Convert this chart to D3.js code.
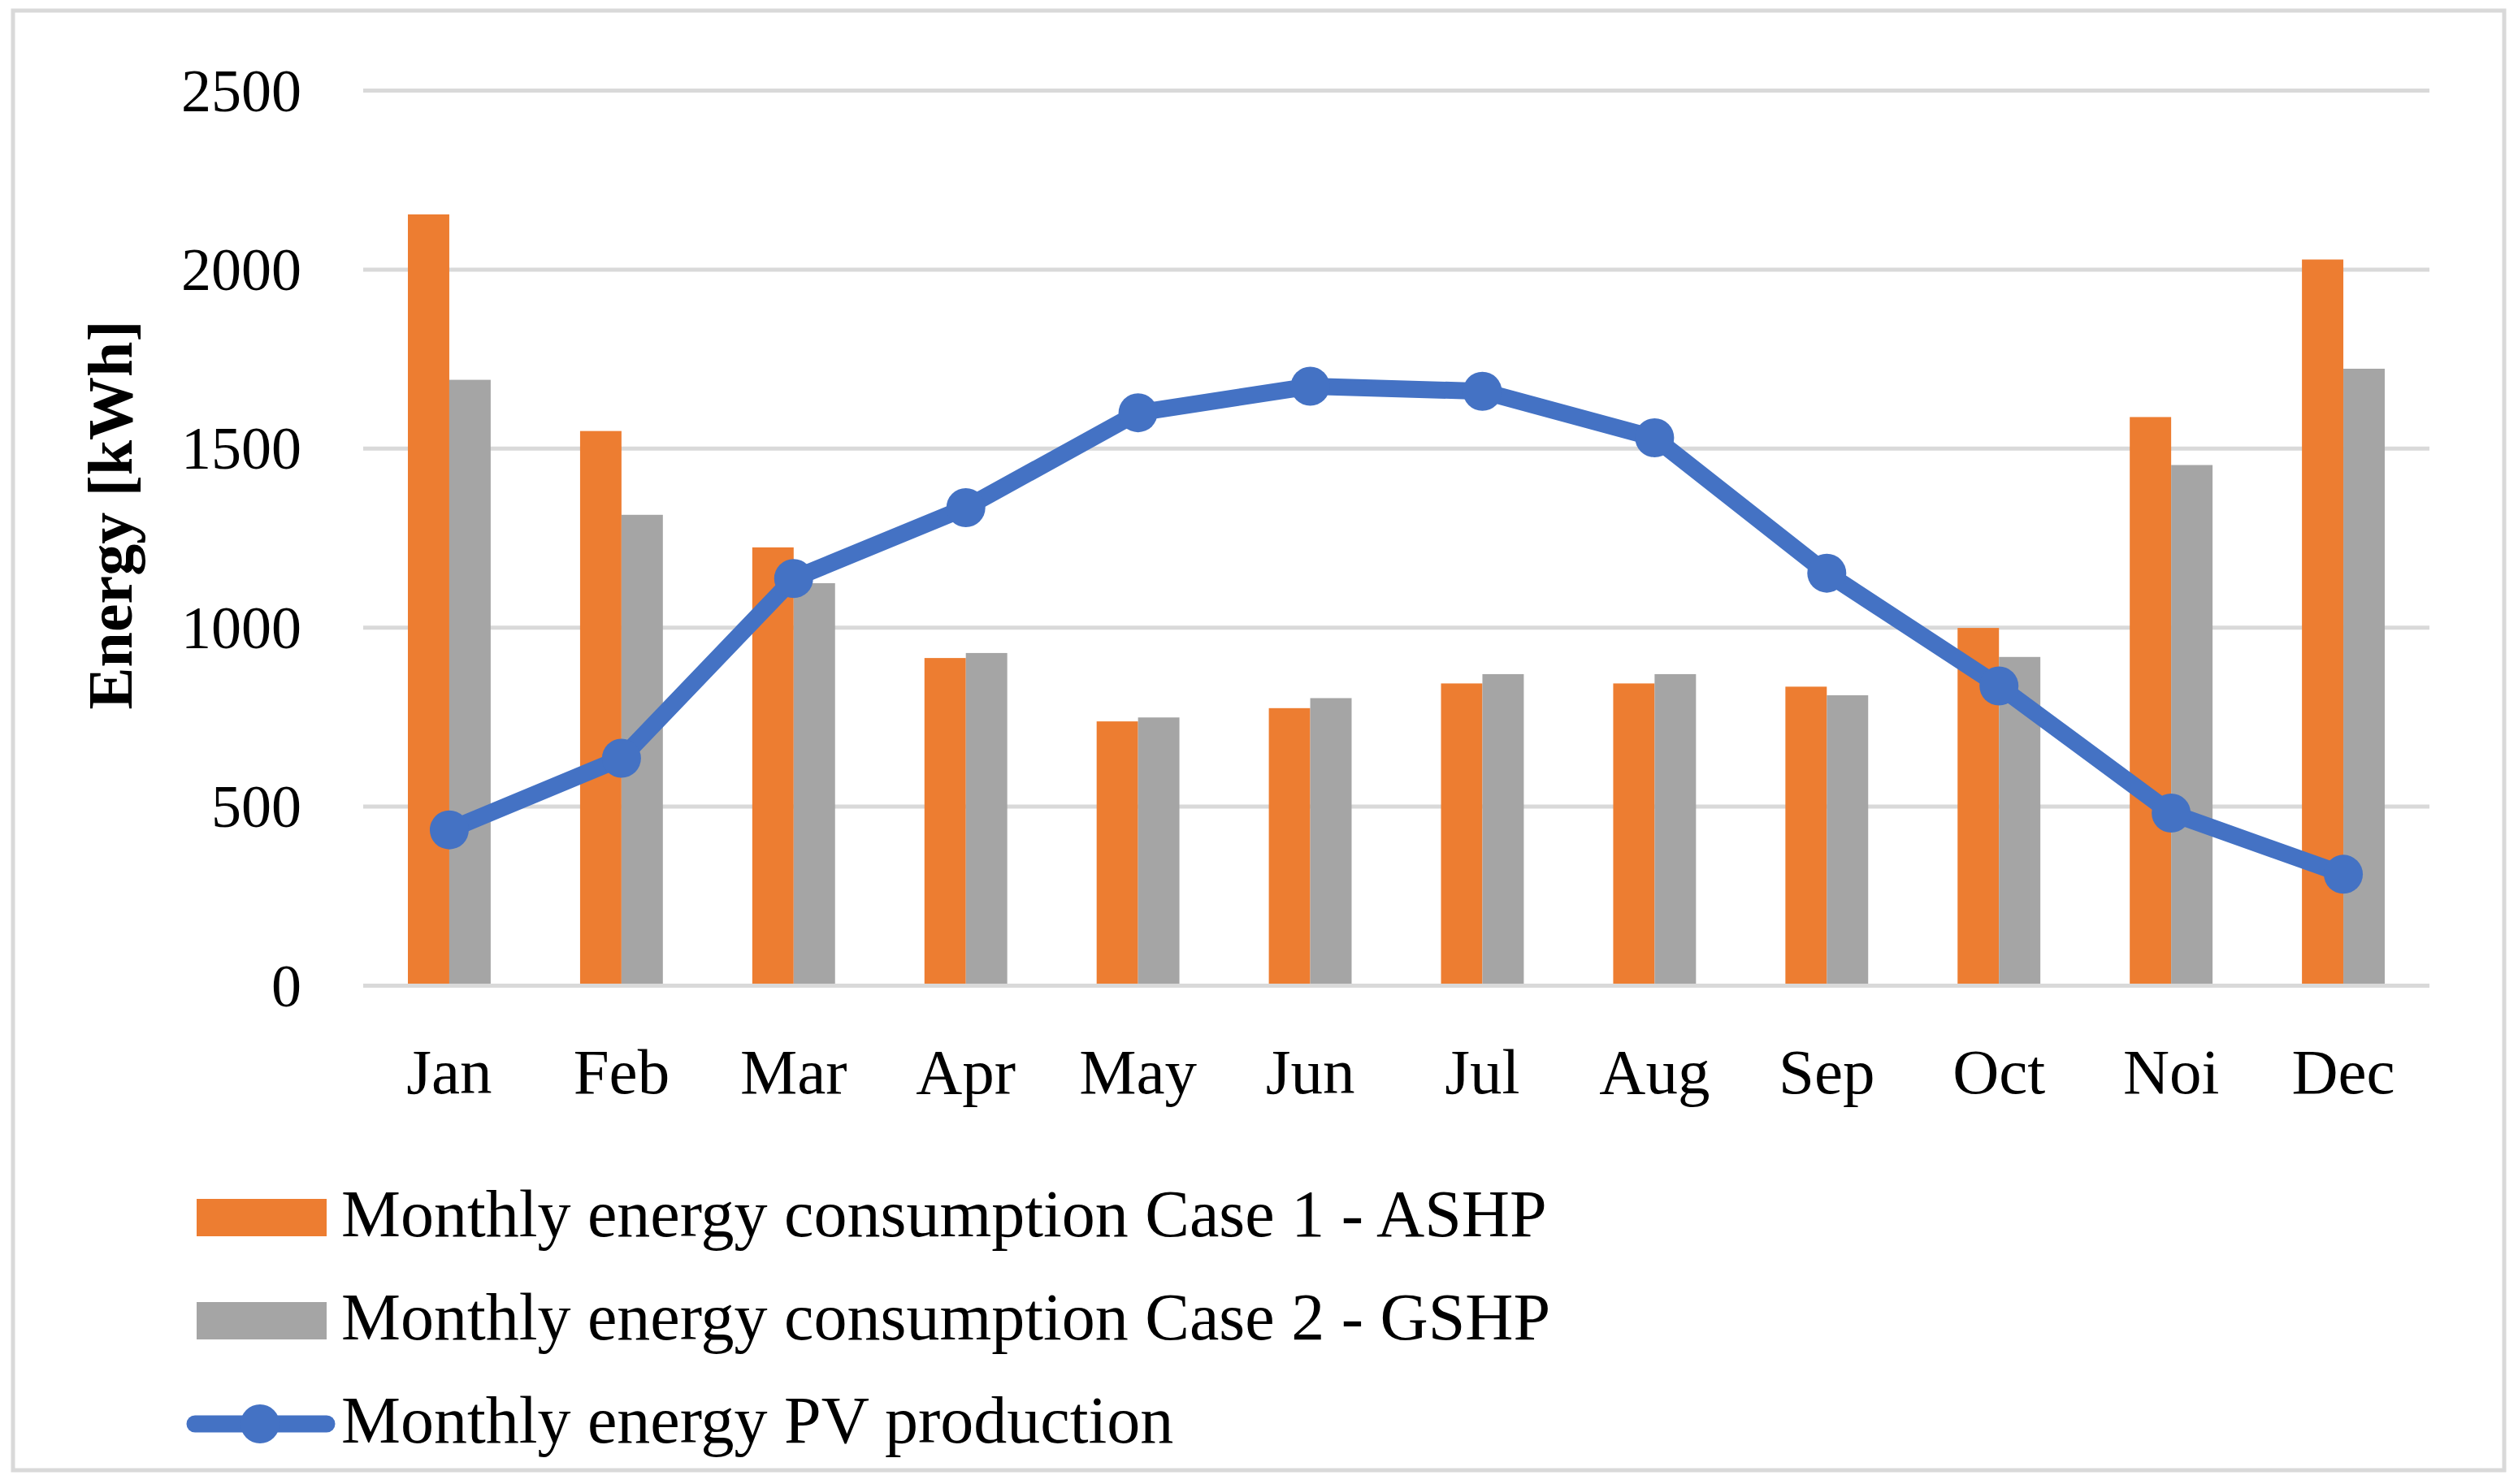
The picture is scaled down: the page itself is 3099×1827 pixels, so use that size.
<!DOCTYPE html>
<html>
<head>
<meta charset="utf-8">
<script src="https://cdn.jsdelivr.net/npm/d3@7"></script>
<style>
  html, body { margin: 0; padding: 0; background: #ffffff; }
  svg { display: block; }
  text { font-family: "Liberation Serif", "Times New Roman", serif; fill: #000000; }
</style>
</head>
<body>
<svg id="chart" width="3099" height="1827"></svg>
<script>
/* Data */
const months = ['Jan', 'Feb', 'Mar', 'Apr', 'May', 'Jun', 'Jul', 'Aug', 'Sep', 'Oct', 'Noi', 'Dec'];
const ashpValues = [2153, 1548, 1223, 914, 737, 774, 843, 843, 834, 998, 1587, 2027];
const gshpValues = [1691, 1314, 1123, 928, 748, 802, 869, 869, 810, 917, 1453, 1722];
const pvValues = [434, 634, 1136, 1334, 1599, 1673, 1659, 1529, 1151, 836, 481, 310];
const yTicks = [0, 500, 1000, 1500, 2000, 2500];
const seriesNames = [
  'Monthly energy consumption Case 1 - ASHP',
  'Monthly energy consumption Case 2 - GSHP',
  'Monthly energy PV production'
];

const colors = { ashp: '#ED7D31', gshp: '#A5A5A5', pv: '#4472C4', grid: '#D9D9D9' };

const plot = { left: 447, right: 2990, top: 111, bottom: 1213 };

const svg = d3.select('#chart');

/* Outer chart border */
svg.append('rect')
    .attr('x', 16)
    .attr('y', 13)
    .attr('width', 3066)
    .attr('height', 1797)
    .attr('fill', '#ffffff')
    .attr('stroke', colors.grid)
    .attr('stroke-width', 5);

/* Scales */
const x = d3.scaleBand()
    .domain(months)
    .range([plot.left, plot.right])
    .paddingInner(0)
    .paddingOuter(0);

const xSub = d3.scaleBand()
    .domain(['ashp', 'gshp'])
    .range([0, x.bandwidth()])
    .paddingInner(0)
    .paddingOuter(1.08);

const y = d3.scaleLinear()
    .domain([0, 2500])
    .range([plot.bottom, plot.top]);

/* Y axis with grid lines */
let yAxisD3 = svg.append('g')
    .attr('class', 'y-axis')
    .attr('transform', `translate(${plot.left},0)`)
    .call(d3.axisLeft(y)
        .tickValues(yTicks)
        .tickSize(-(plot.right - plot.left))
        .tickPadding(76)
        .tickFormat(d3.format('d')));
yAxisD3.select('.domain').remove();
yAxisD3.selectAll('.tick line')
    .attr('stroke', colors.grid)
    .attr('stroke-width', 5);
yAxisD3.selectAll('.tick text')
    .attr('font-size', 74)
    .attr('font-family', '"Liberation Serif", serif')
    .attr('fill', '#000000')
    .attr('dy', '0.34em');

/* Bars */
let barsD3 = svg.append('g').attr('class', 'bars');
let groupsD3 = barsD3.selectAll('g.month')
    .data(months)
    .join('g')
    .attr('class', 'month')
    .attr('transform', d => `translate(${x(d)},0)`);

groupsD3.append('rect')
    .attr('x', xSub('ashp'))
    .attr('width', xSub.bandwidth())
    .attr('y', (d, i) => y(ashpValues[i]))
    .attr('height', (d, i) => y(0) - y(ashpValues[i]) - 2)
    .attr('fill', colors.ashp);

groupsD3.append('rect')
    .attr('x', xSub('gshp'))
    .attr('width', xSub.bandwidth())
    .attr('y', (d, i) => y(gshpValues[i]))
    .attr('height', (d, i) => y(0) - y(gshpValues[i]) - 2)
    .attr('fill', colors.gshp);

/* PV production line */
let pvPoints = months.map((m, i) => ({ month: m, value: pvValues[i] }));
let lineGen = d3.line()
    .x(d => x(d.month) + x.bandwidth() / 2)
    .y(d => y(d.value));

let lineD3 = svg.append('g').attr('class', 'pv-line');
lineD3.append('path')
    .datum(pvPoints)
    .attr('d', lineGen)
    .attr('fill', 'none')
    .attr('stroke', colors.pv)
    .attr('stroke-width', 21)
    .attr('stroke-linejoin', 'round');
lineD3.selectAll('circle')
    .data(pvPoints)
    .join('circle')
    .attr('cx', d => x(d.month) + x.bandwidth() / 2)
    .attr('cy', d => y(d.value))
    .attr('r', 24)
    .attr('fill', colors.pv);

/* X axis labels */
let xAxisD3 = svg.append('g')
    .attr('class', 'x-axis')
    .attr('transform', `translate(0,${plot.bottom})`)
    .call(d3.axisBottom(x).tickSize(0).tickPadding(0));
xAxisD3.select('.domain').remove();
xAxisD3.selectAll('.tick text')
    .attr('font-size', 79)
    .attr('font-family', '"Liberation Serif", serif')
    .attr('fill', '#000000')
    .attr('dy', null)
    .attr('y', 133);

/* Y axis title */
svg.append('text')
    .attr('class', 'y-label')
    .attr('transform', 'translate(162,634) rotate(-90)')
    .attr('text-anchor', 'middle')
    .attr('font-size', 78)
    .attr('font-weight', 'bold')
    .text('Energy [kWh]');

/* Legend */
const legendRows = [1499, 1626, 1753];
let legendD3 = svg.append('g').attr('class', 'legend');

legendD3.append('rect')
    .attr('x', 242).attr('y', legendRows[0] - 23)
    .attr('width', 160).attr('height', 46)
    .attr('fill', colors.ashp);
legendD3.append('rect')
    .attr('x', 242).attr('y', legendRows[1] - 23)
    .attr('width', 160).attr('height', 46)
    .attr('fill', colors.gshp);
legendD3.append('line')
    .attr('x1', 240).attr('x2', 402)
    .attr('y1', legendRows[2]).attr('y2', legendRows[2])
    .attr('stroke', colors.pv)
    .attr('stroke-width', 21)
    .attr('stroke-linecap', 'round');
legendD3.append('circle')
    .attr('cx', 320).attr('cy', legendRows[2])
    .attr('r', 24)
    .attr('fill', colors.pv);

legendD3.selectAll('text')
    .data(seriesNames)
    .join('text')
    .attr('x', 420)
    .attr('y', (d, i) => legendRows[i] + 23)
    .attr('font-size', 82)
    .text(d => d);
</script>
</body>
</html>
